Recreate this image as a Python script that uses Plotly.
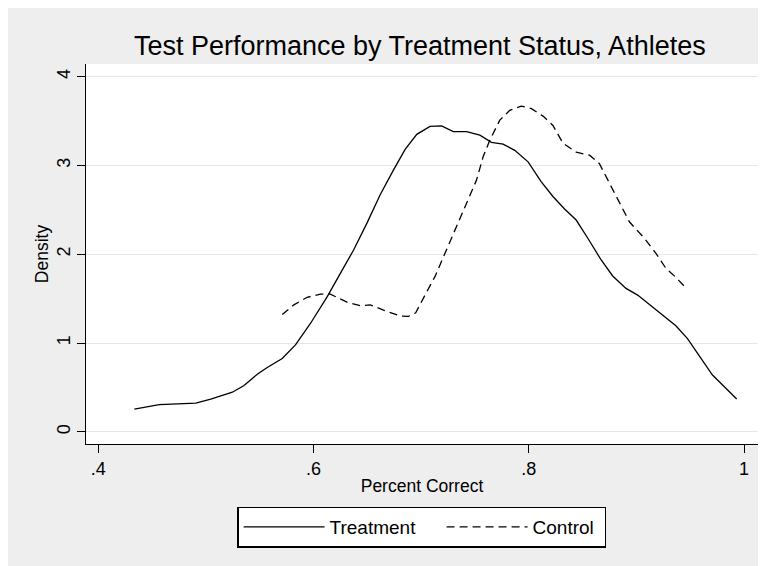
import plotly.graph_objects as go

title_text = "Test Performance by Treatment Status, Athletes"
x_title = "Percent Correct"
y_title = "Density"
series_names = ["Treatment", "Control"]

treat_x = [0.4336, 0.4568, 0.4907, 0.5046, 0.5247, 0.5355, 0.5478, 0.5571, 0.571, 0.5833,
           0.5972, 0.6127, 0.625, 0.6373, 0.6497, 0.662, 0.6744, 0.6852, 0.696, 0.7083,
           0.7191, 0.7299, 0.7423, 0.7546, 0.7654, 0.7762, 0.787, 0.7994, 0.8117, 0.8225,
           0.8333, 0.8441, 0.8549, 0.8673, 0.878, 0.8904, 0.9012, 0.9136, 0.9259, 0.9367,
           0.9475, 0.9583, 0.9707, 0.9815, 0.9932]
treat_y = [0.255, 0.307, 0.323, 0.368, 0.446, 0.521, 0.649, 0.724, 0.825, 0.979,
           1.22, 1.52, 1.785, 2.047, 2.35, 2.67, 2.95, 3.18, 3.35, 3.44,
           3.445, 3.38, 3.38, 3.34, 3.26, 3.24, 3.17, 3.04, 2.815, 2.65,
           2.51, 2.385, 2.18, 1.935, 1.755, 1.615, 1.54, 1.42, 1.31, 1.195,
           1.05, 0.855, 0.64, 0.51, 0.37]

ctrl_x = [0.571, 0.5818, 0.5942, 0.6065, 0.6157, 0.6312, 0.6435, 0.6528, 0.6651, 0.6806,
          0.6883, 0.695, 0.7045, 0.713, 0.7222, 0.7315, 0.7423, 0.7515, 0.7577, 0.7639,
          0.7731, 0.7824, 0.7932, 0.8025, 0.8133, 0.8225, 0.8318, 0.8441, 0.8565, 0.8657,
          0.875, 0.8858, 0.8935, 0.9074, 0.9182, 0.9275, 0.9367, 0.9444]
ctrl_y = [1.32, 1.43, 1.515, 1.55, 1.55, 1.46, 1.42, 1.43, 1.37, 1.305,
          1.30, 1.34, 1.56, 1.75, 2.01, 2.27, 2.57, 2.835, 3.10, 3.285,
          3.51, 3.62, 3.667, 3.64, 3.555, 3.45, 3.25, 3.15, 3.115, 3.02,
          2.80, 2.555, 2.365, 2.18, 2.01, 1.84, 1.74, 1.64]

x_tickvals = [0.4, 0.6, 0.8, 1.0]
x_ticktext = [".4", ".6", ".8", "1"]
y_tickvals = [0, 1, 2, 3, 4]
y_ticktext = ["0", "1", "2", "3", "4"]

FONT = "Liberation Sans, Arial, sans-serif"
NBSP = "\u00a0"

fig = go.Figure()
fig.add_trace(go.Scatter(x=treat_x, y=treat_y, mode="lines", name=series_names[0] + NBSP * 4,
                         line=dict(color="black", width=1.3)))
fig.add_trace(go.Scatter(x=ctrl_x, y=ctrl_y, mode="lines", name=series_names[1] + NBSP,
                         line=dict(color="black", width=1.3, dash="8px,5px")))

fig.update_layout(
    width=766, height=566,
    paper_bgcolor="#EEEEEE", plot_bgcolor="white",
    margin=dict(l=78, r=16, t=56, b=130),
    font=dict(family=FONT, size=18, color="black"),
    title=dict(text=title_text, x=0.5376, xanchor="center", y=0.9337, yanchor="middle",
               font=dict(size=27, color="black")),
    xaxis=dict(range=[0.3887, 1.013], tickvals=x_tickvals, ticktext=x_ticktext,
               showgrid=False, zeroline=False, showline=True, linecolor="black", linewidth=1.3,
               ticks="outside", ticklen=8, tickcolor="black", tickwidth=1.3,
               tickfont=dict(size=18),
               title=dict(text=x_title, font=dict(size=17.5), standoff=1)),
    yaxis=dict(range=[-0.137, 4.142], tickvals=y_tickvals, ticktext=y_ticktext,
               showgrid=True, gridcolor="#E6E6E6", gridwidth=1.3, zeroline=False,
               showline=True, linecolor="black", linewidth=1.3,
               ticks="outside", ticklen=8, tickcolor="black", tickwidth=1.3,
               tickangle=-90, tickfont=dict(size=18),
               title=dict(text=y_title, font=dict(size=17.5), standoff=0)),
    legend=dict(orientation="h", x=0.2251, xanchor="left", y=-0.165, yanchor="top",
                bgcolor="white", bordercolor="black", borderwidth=1.3,
                font=dict(size=19), itemwidth=81),
    showlegend=True,
)

fig.write_html("out.html")
